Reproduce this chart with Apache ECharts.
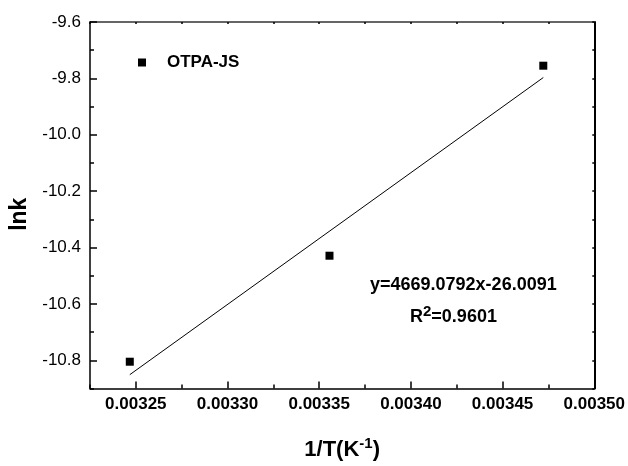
<!DOCTYPE html>
<html>
<head>
<meta charset="utf-8">
<script src="https://cdn.jsdelivr.net/npm/echarts@6/dist/echarts.min.js"></script>
<style>html,body{margin:0;padding:0;background:#fff}#c{width:628px;height:466px}</style>
</head>
<body>
<div id="c"></div>
<script>
// Data
const seriesName = 'OTPA-JS';
const invT = [0.0032467, 0.0033556, 0.0034722];
const lnk = [-10.805, -10.429, -9.755];
const fitX = [0.0032467, 0.0034722];
const fitY = [-10.851, -9.797];
const xMajorTicks = [0.00325, 0.00330, 0.00335, 0.00340, 0.00345, 0.00350];
const xMinorTicks = [0.003225, 0.003275, 0.003325, 0.003375, 0.003425, 0.003475];
const yMajorTicks = [-10.8, -10.6, -10.4, -10.2, -10.0, -9.8, -9.6];
const yMinorTicks = [-10.9, -10.7, -10.5, -10.3, -10.1, -9.9, -9.7];
const equationText = 'y=4669.0792x-26.0091';
const r2Text = '0.9601';

const FONT = '"Liberation Sans", Arial, sans-serif';
const xMin = 0.003225, xMax = 0.0035, yMin = -10.9, yMax = -9.6;
const allX = xMajorTicks.concat(xMinorTicks).sort((a,b)=>a-b);
const allY = yMajorTicks.concat(yMinorTicks).sort((a,b)=>a-b);

const chart = echarts.init(document.getElementById('c'), null, {renderer: 'canvas'});
const lineStyle = {color: '#000', width: 1.5};
const baseX = {type: 'value', min: xMin, max: xMax, splitLine: {show: false}, gridIndex: 0};
const baseY = {type: 'value', min: yMin, max: yMax, splitLine: {show: false}, gridIndex: 0};

chart.setOption({
  animation: false,
  backgroundColor: '#fff',
  grid: {left: 90, right: 31, top: 22, bottom: 68, containLabel: false},
  legend: {
    data: [{name: seriesName, icon: 'rect', itemStyle: {color: '#000', opacity: 1}}],
    left: 133, top: 49,
    itemWidth: 8, itemHeight: 8,
    textStyle: {fontFamily: FONT, fontSize: 17, fontWeight: 'bold', color: '#000', padding: [0, 0, 0, 16]}
  },
  xAxis: [
    Object.assign({}, baseX, {
      position: 'bottom',
      name: '1/T(K{sup|-1})',
      nameLocation: 'middle', nameGap: 48,
      nameTextStyle: {fontFamily: FONT, fontSize: 22, fontWeight: 'bold', color: '#000',
        rich: {sup: {fontFamily: FONT, fontSize: 15, fontWeight: 'bold', color: '#000', verticalAlign: 'bottom', padding: [0, 0, 12, 0]}}},
      axisLine: {show: true, lineStyle: lineStyle},
      axisTick: {show: true, inside: true, length: 7, customValues: xMajorTicks, lineStyle: {color: '#000', width: 1.5}},
      axisLabel: {show: true, customValues: xMajorTicks, margin: 7, fontFamily: FONT, fontSize: 17, fontWeight: 'bold', color: '#000',
        formatter: v => v.toFixed(5)}
    }),
    Object.assign({}, baseX, {
      position: 'bottom',
      axisLine: {show: false},
      axisTick: {show: true, inside: true, length: 4, customValues: xMinorTicks, lineStyle: {color: '#000', width: 1.5}},
      axisLabel: {show: false}
    }),
    Object.assign({}, baseX, {
      position: 'top',
      axisLine: {show: true, lineStyle: {color: '#333', width: 1.5}},
      axisTick: {show: true, inside: true, length: 2, customValues: allX, lineStyle: {color: '#000', width: 1.5}},
      axisLabel: {show: false}
    })
  ],
  yAxis: [
    Object.assign({}, baseY, {
      position: 'left',
      name: 'lnk',
      nameLocation: 'middle', nameGap: 56, nameRotate: 90,
      nameTextStyle: {fontFamily: FONT, fontSize: 23, fontWeight: 'bold', color: '#000', padding: [0, 18, 0, 0]},
      axisLine: {show: true, lineStyle: lineStyle},
      axisTick: {show: true, inside: true, length: 7, customValues: yMajorTicks, lineStyle: {color: '#000', width: 1.5}},
      axisLabel: {show: true, customValues: yMajorTicks, margin: 9, fontFamily: FONT, fontSize: 17, color: '#000',
        formatter: v => v.toFixed(1)}
    }),
    Object.assign({}, baseY, {
      position: 'left',
      axisLine: {show: false},
      axisTick: {show: true, inside: true, length: 4, customValues: yMinorTicks, lineStyle: {color: '#000', width: 1.5}},
      axisLabel: {show: false}
    }),
    Object.assign({}, baseY, {
      position: 'right',
      axisLine: {show: true, lineStyle: {color: '#000', width: 2}},
      axisTick: {show: true, inside: true, length: 2, customValues: allY, lineStyle: {color: '#000', width: 1.5}},
      axisLabel: {show: false}
    })
  ],
  series: [
    {
      name: seriesName, type: 'scatter', xAxisIndex: 0, yAxisIndex: 0,
      symbol: 'rect', symbolSize: 8,
      itemStyle: {color: '#000', opacity: 1},
      data: invT.map((x, i) => [x, lnk[i]]),
      z: 5
    },
    {
      name: 'fit', type: 'line', xAxisIndex: 0, yAxisIndex: 0,
      symbol: 'none', lineStyle: {color: '#000', width: 1},
      data: fitX.map((x, i) => [x, fitY[i]]),
      z: 4
    }
  ],
  graphic: [
    {type: 'text', left: 370, top: 276,
      style: {text: equationText, fontFamily: FONT, fontSize: 18, fontWeight: 'bold', fill: '#000'}},
    {type: 'text', left: 410, top: 304,
      style: {text: 'R{sup|2}=' + r2Text, fontFamily: FONT, fontSize: 18, fontWeight: 'bold', fill: '#000',
        rich: {sup: {fontFamily: FONT, fontSize: 15, fontWeight: 'bold', fill: '#000', verticalAlign: 'bottom', padding: [0, 0, 11, 0]}}}}
  ]
});
</script>
</body>
</html>
